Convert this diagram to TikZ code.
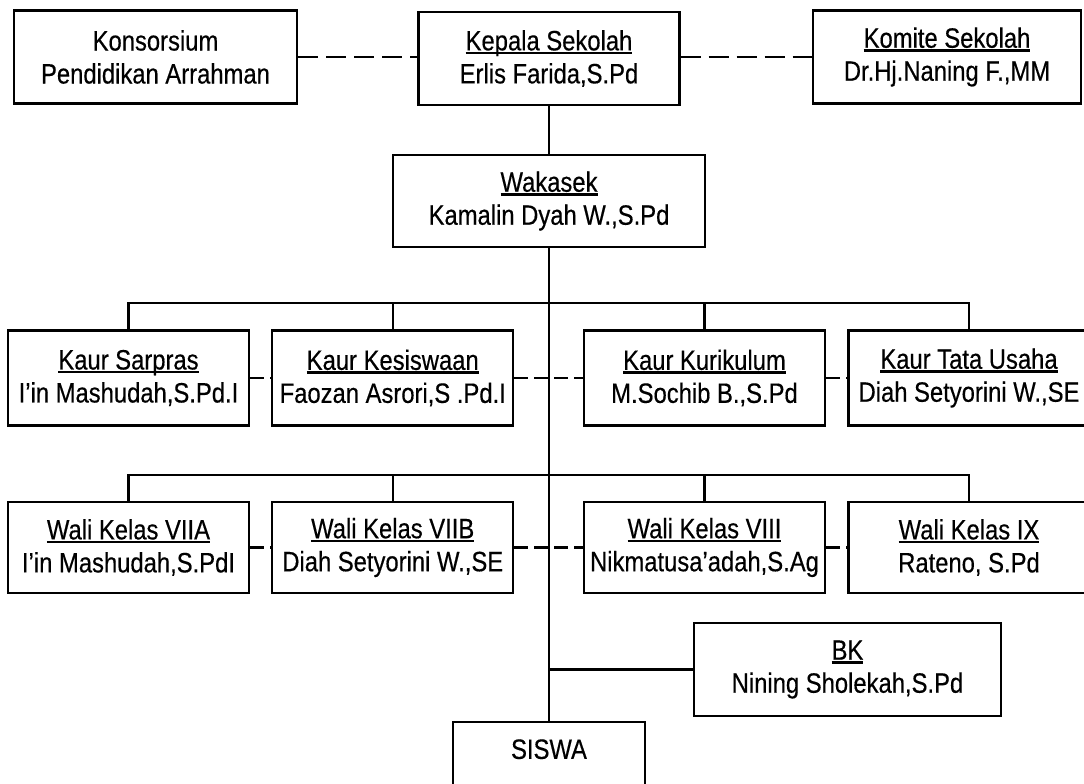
\documentclass[tikz,border=0pt]{standalone}
\usepackage{fontspec}
\setmainfont[FakeStretch=0.85,FakeBold=0.4]{Liberation Sans}
\newcommand\myul[1]{\setbox0\hbox{#1}\rlap{\rule[-3.8pt]{\wd0}{2.3pt}}\box0}
\begin{document}
\begin{tikzpicture}[x=1pt,y=-1pt,
  font=\fontsize{28}{33}\selectfont,
  box/.style={draw, line width=2.2pt, align=center, inner sep=0pt, minimum height=93pt},
  link/.style={line width=2.2pt},
  dlink/.style={line width=2.2pt, dash pattern=on 20pt off 8pt},
  ddlink/.style={line width=2.2pt, dash pattern=on 14pt off 6pt}]
\useasboundingbox (0,0) rectangle (1084,784);
\clip (0,0) rectangle (1084,784);
\fill[white] (0,0) rectangle (1084,784);

% top row
\node[box, minimum width=283pt] (kons) at (155.5,57) {Konsorsium\\Pendidikan Arrahman};
\node[box, minimum width=261pt] (kepala) at (549,58.5) {\myul{Kepala Sekolah}\\Erlis Farida,S.Pd};
\node[box, minimum width=268pt] (komite) at (947,57) {\myul{Komite Sekolah}\\Dr.Hj.Naning F.,MM};

\node[box, minimum width=312pt, minimum height=92pt] (wakasek) at (549,201) {\myul{Wakasek}\\Kamalin Dyah W.,S.Pd};

% kaur row
\node[box, minimum width=241pt, minimum height=95pt] (sarpras) at (128.5,378) {\myul{Kaur Sarpras}\\I’in Mashudah,S.Pd.I};
\node[box, minimum width=241pt, minimum height=95pt] (kesiswaan) at (392.75,378) {\myul{Kaur Kesiswaan}\\Faozan Asrori,S .Pd.I};
\node[box, minimum width=241pt, minimum height=95pt] (kurikulum) at (704.5,378) {\myul{Kaur Kurikulum}\\M.Sochib B.,S.Pd};
\node[box, minimum width=241pt, minimum height=95pt] (tata) at (969,378) {\myul{Kaur Tata Usaha}\\Diah Setyorini W.,SE};

% wali row
\node[box, minimum width=241pt, minimum height=91pt] (w7a) at (128.5,547.5) {\myul{Wali Kelas VIIA}\\I’in Mashudah,S.PdI};
\node[box, minimum width=241pt, minimum height=91pt] (w7b) at (392.75,547.5) {\myul{Wali Kelas VIIB}\\Diah Setyorini W.,SE};
\node[box, minimum width=241pt, minimum height=91pt] (w8) at (704.5,547.5) {\myul{Wali Kelas VIII}\\Nikmatusa’adah,S.Ag};
\node[box, minimum width=241pt, minimum height=91pt] (w9) at (969,547.5) {\myul{Wali Kelas IX}\\Rateno, S.Pd};

\node[box, minimum width=307pt] (bk) at (847.5,669.5) {\myul{BK}\\Nining Sholekah,S.Pd};
\node[box, minimum width=192pt] (siswa) at (549,768.5) {SISWA\\\phantom{Xg}};

% main spine
\draw[link] (kepala.south) -- (wakasek.north);
\draw[link] (wakasek.south) -- (siswa.north);

% kaur branch
\coordinate (kb) at (549,303);
\draw[link] (sarpras.north) |- (kb) -| (tata.north);
\draw[link] (kesiswaan.north) -- (kesiswaan.north |- kb);
\draw[link] (kurikulum.north) -- (kurikulum.north |- kb);

% wali branch
\coordinate (wb) at (549,475);
\draw[link] (w7a.north) |- (wb) -| (w9.north);
\draw[link] (w7b.north) -- (w7b.north |- wb);
\draw[link] (w8.north) -- (w8.north |- wb);

% BK
\draw[link] (bk.west) -- (bk.west -| siswa.north);

% dashed relations
\draw[dlink] (kons.east) -- (kons.east -| kepala.west);
\draw[dlink] (kepala.east |- komite.west) -- (komite.west);
\draw[ddlink] (sarpras.east) -- (kesiswaan.west);
\draw[ddlink] (kesiswaan.east) -- (kurikulum.west);
\draw[ddlink] (kurikulum.east) -- (tata.west);
\draw[ddlink] (w7a.east) -- (w7b.west);
\draw[ddlink] (w7b.east) -- (w8.west);
\draw[ddlink] (w8.east) -- (w9.west);
\end{tikzpicture}
\end{document}
